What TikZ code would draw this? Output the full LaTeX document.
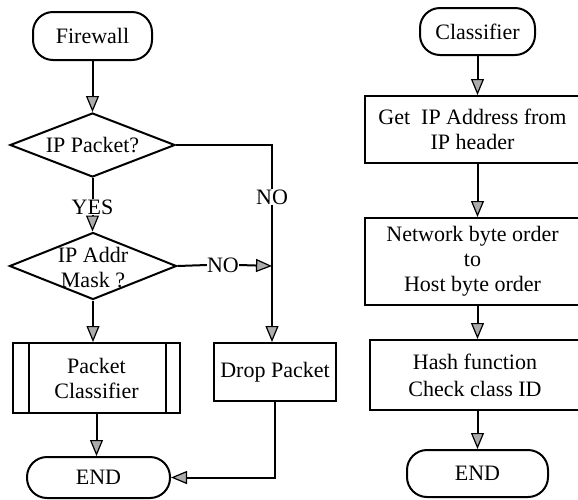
\documentclass[tikz,border=0pt]{standalone}
\usepackage{fontspec}
\setmainfont{Liberation Serif}
\usetikzlibrary{arrows.meta,shapes.geometric,calc}
\begin{document}
\begin{tikzpicture}[x=1pt,y=-1pt,
  every node/.style={font=\rmfamily\fontsize{22}{25}\selectfont},
  base/.style={draw,line width=2pt,inner sep=0pt,align=center},
  pill/.style={base,rounded corners=20pt},
  box/.style={base},
  dia/.style={draw,line width=2pt,diamond,inner sep=0pt},
  txt/.style={inner sep=0pt,align=center},
  link/.style={line width=2pt},
  arr/.style={link,-{Triangle[length=16pt,width=13pt,fill=gray!65,line width=1.2pt]}},
]
\fill[white] (0,0) rectangle (578,499);
\useasboundingbox (0,0) rectangle (578,499);

% ---- Firewall flow ----
\node[pill,minimum width=119pt,minimum height=48pt] (fw) at (92.5,36) {Firewall};
\node[dia,minimum width=165pt,minimum height=64pt] (d1) at (92.5,145) {};
\node[txt] (d1t) at (d1) {IP Packet?};
\node[txt] (yes) at (92.5,207) {YES};
\node[dia,minimum width=167pt,minimum height=67pt] (d2) at (93,266) {};
\node[txt] (d2t) at (93,268) {IP Addr\\Mask ?};
\node[txt] (no1) at (272,197) {NO};
\node[txt] (no2) at (223,265) {NO};
\node[box,minimum width=167pt,minimum height=70pt] (pc) at (96.5,378) {Packet\\Classifier};
\node[box,minimum width=122pt,minimum height=58pt] (drop) at (275,372) {Drop Packet};
\node[pill,minimum width=143pt,minimum height=41pt] (end1) at (98.5,477.5) {END};

% predefined-process bars
\draw[link] ($(pc.north west)+(17,0)$) -- ($(pc.south west)+(17,0)$);
\draw[link] ($(pc.north east)+(-15,0)$) -- ($(pc.south east)+(-15,0)$);

\coordinate (j) at (no1 |- d2.east);

\draw[arr] (fw.south) -- (d1.north);
\draw[link] (d1.south) -- (yes.north);
\draw[arr] (yes.south) -- (yes.south |- d2.north);
\draw[link] (d1.east) -| (no1.north);
\draw[arr] (no1.south) -- (no1.south |- drop.north);
\draw[link] (d2.east) -- (no2.west);
\draw[arr] (no2.east) -- (j);
\draw[arr] (d2.south) -- (d2.south |- pc.north);
\draw[arr] (pc.south) -- (pc.south |- end1.north);
\draw[arr] (drop.south) |- (end1.east);

% ---- Classifier flow ----
\node[pill,minimum width=115pt,minimum height=47pt] (cls) at (477.5,31.5) {Classifier};
\node[box,minimum width=215pt,minimum height=67pt] (get) at (472.5,129.5) {Get~ IP Address from\\IP header};
\node[box,minimum width=215pt,minimum height=87pt] (net) at (472.5,261.5) {Network byte order\\to\\Host byte order};
\node[box,minimum width=210pt,minimum height=70pt] (hash) at (475,375) {Hash function\\[2pt]Check class ID};
\node[pill,minimum width=141pt,minimum height=47pt] (end2) at (477.5,473.5) {END};

\draw[arr] (cls.south) -- (cls.south |- get.north);
\draw[arr] (cls.south |- get.south) -- (cls.south |- net.north);
\draw[arr] (cls.south |- net.south) -- (cls.south |- hash.north);
\draw[arr] (cls.south |- hash.south) -- (end2.north);
\end{tikzpicture}
\end{document}
